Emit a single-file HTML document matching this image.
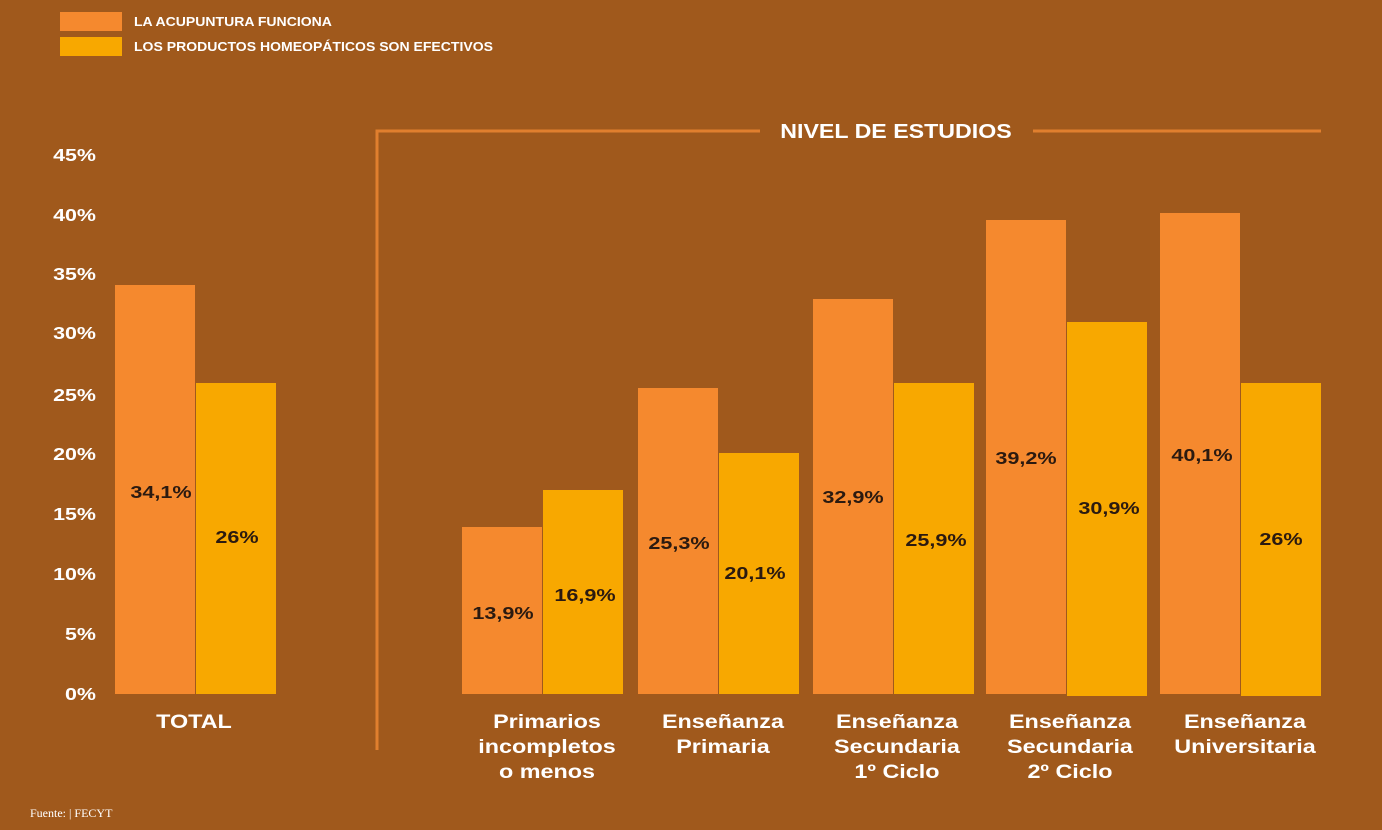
<!DOCTYPE html>
<html><head><meta charset="utf-8"><style>
html,body{margin:0;padding:0;background:#A0591C;}
svg{display:block;}
text{font-family:"Liberation Sans",Arial,sans-serif;font-weight:bold;transform-box:fill-box;}
.c text{transform-origin:center;}
.e text{transform-origin:right center;}
.l text{transform-origin:left center;}
</style></head><body>
<svg width="1382" height="830" viewBox="0 0 1382 830" xmlns="http://www.w3.org/2000/svg">
<rect width="1382" height="830" fill="#A0591C"/>
<rect x="60" y="12" width="62" height="19" fill="#F5892E"/>
<rect x="60" y="37" width="62" height="19" fill="#F8A800"/>
<g class="l" style="">
<text x="134" y="26" font-size="13" fill="#fff" style="transform:scaleX(1.08)">LA ACUPUNTURA FUNCIONA</text>
<text x="134" y="51" font-size="13" fill="#fff" style="transform:scaleX(1.08)">LOS PRODUCTOS HOMEOPÁTICOS SON EFECTIVOS</text>
</g>
<g class="e" font-size="18" fill="#fff" text-anchor="end" style="">
<text x="96" y="161" style="transform:scaleX(1.19)">45%</text><text x="96" y="221" style="transform:scaleX(1.19)">40%</text><text x="96" y="280" style="transform:scaleX(1.19)">35%</text>
<text x="96" y="339" style="transform:scaleX(1.19)">30%</text><text x="96" y="401" style="transform:scaleX(1.19)">25%</text><text x="96" y="460" style="transform:scaleX(1.19)">20%</text>
<text x="96" y="520" style="transform:scaleX(1.19)">15%</text><text x="96" y="580" style="transform:scaleX(1.19)">10%</text><text x="96" y="640" style="transform:scaleX(1.19)">5%</text>
<text x="96" y="700" style="transform:scaleX(1.19)">0%</text>
</g>
<g stroke="#E07F2E" stroke-width="3" fill="none">
<polyline points="377,750 377,131 760,131"/>
<line x1="1033" y1="131" x2="1321" y2="131"/>
</g>
<g class="c"><text x="896" y="138" font-size="20" fill="#fff" text-anchor="middle" style="transform:scaleX(1.16)">NIVEL DE ESTUDIOS</text></g>
<g fill="#F5892E">
<rect x="115" y="285" width="80" height="409"/>
<rect x="462" y="527" width="80" height="167"/>
<rect x="638" y="388" width="80" height="306"/>
<rect x="813" y="299" width="80" height="395"/>
<rect x="986" y="220" width="80" height="474"/>
<rect x="1160" y="213" width="80" height="481"/>
</g>
<g fill="#F8A800">
<rect x="196" y="383" width="80" height="311"/>
<rect x="543" y="490" width="80" height="204"/>
<rect x="719" y="453" width="80" height="241"/>
<rect x="894" y="383" width="80" height="311"/>
<rect x="1067" y="322" width="80" height="374"/>
<rect x="1241" y="383" width="80" height="313"/>
</g>
<g class="c v" font-size="18" fill="#2B1A10" text-anchor="middle">
<text x="161" y="498">34,1%</text><text x="237" y="543">26%</text>
<text x="503" y="619">13,9%</text><text x="585" y="601">16,9%</text>
<text x="679" y="549">25,3%</text><text x="755" y="579">20,1%</text>
<text x="853" y="503">32,9%</text><text x="936" y="546">25,9%</text>
<text x="1026" y="464">39,2%</text><text x="1109" y="514">30,9%</text>
<text x="1202" y="461">40,1%</text><text x="1281" y="545">26%</text>
</g>
<style>.v text{transform:scaleX(1.2)} .k text{transform:scaleX(1.23)}</style>
<g class="c k" font-size="19" fill="#fff" text-anchor="middle">
<text x="194" y="728">TOTAL</text>
<text x="547" y="728">Primarios</text><text x="547" y="753">incompletos</text><text x="547" y="778">o menos</text>
<text x="723" y="728">Enseñanza</text><text x="723" y="753">Primaria</text>
<text x="897" y="728">Enseñanza</text><text x="897" y="753">Secundaria</text><text x="897" y="778">1º Ciclo</text>
<text x="1070" y="728">Enseñanza</text><text x="1070" y="753">Secundaria</text><text x="1070" y="778">2º Ciclo</text>
<text x="1245" y="728">Enseñanza</text><text x="1245" y="753">Universitaria</text>
</g>
<text x="30" y="817" font-size="12" fill="#fff" style="font-family:'Liberation Serif',serif;font-weight:normal">Fuente: | FECYT</text>
</svg>
</body></html>
